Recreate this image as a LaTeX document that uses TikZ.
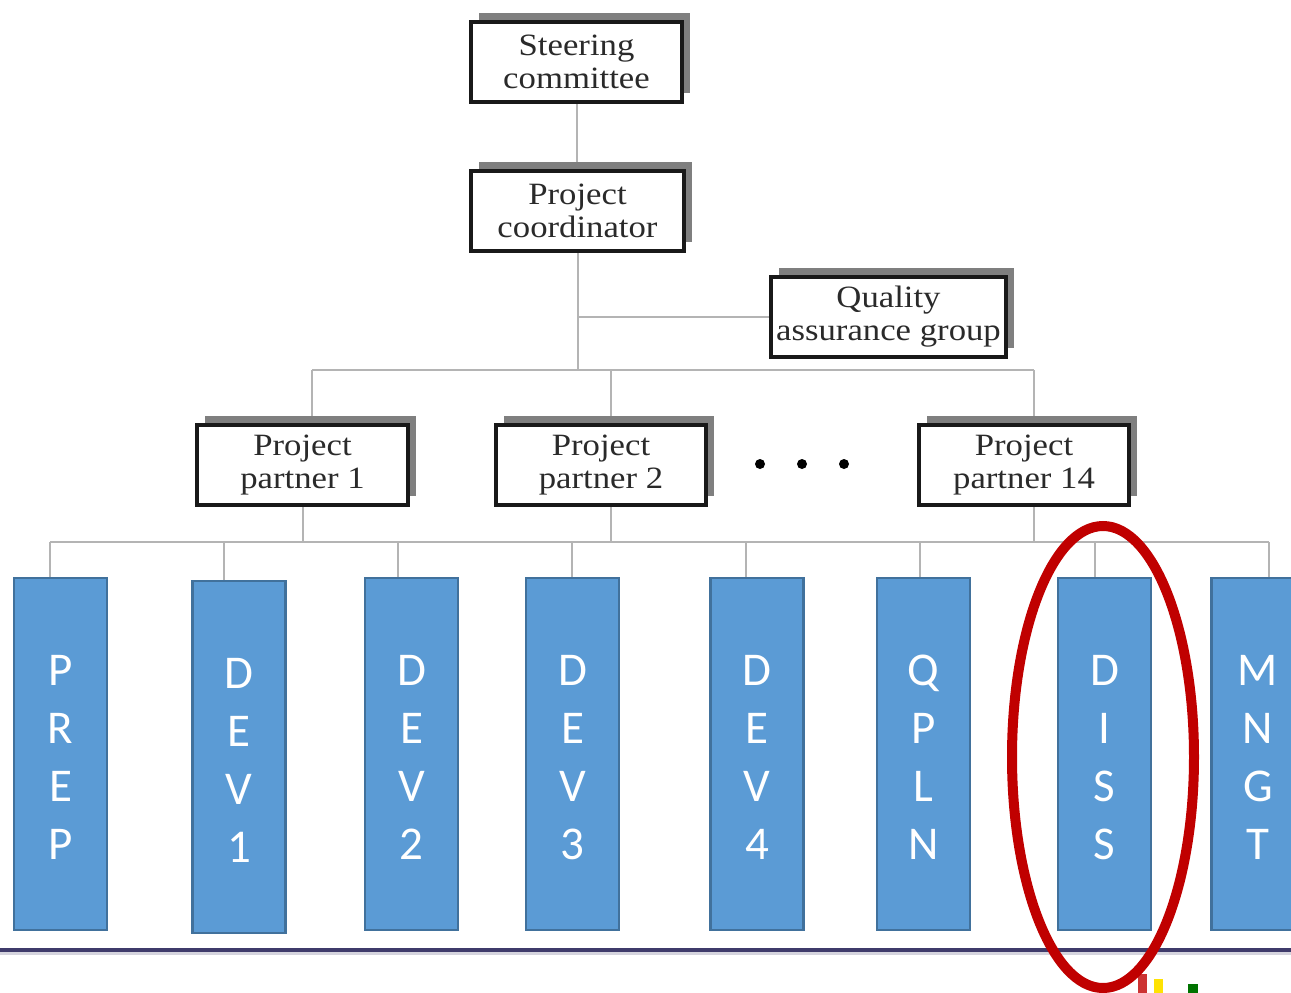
\documentclass[tikz,border=0pt]{standalone}
\usepackage{fontspec}
\newfontfamily\boxfont[FakeStretch=1.12]{Liberation Serif}
\newfontfamily\wpfont{Carlito}
\usetikzlibrary{shadows,backgrounds}
\definecolor{shadowgray}{HTML}{7F7F7F}
\definecolor{conngray}{HTML}{B4B4B4}
\definecolor{wpfill}{HTML}{5B9BD5}
\definecolor{wpborder}{HTML}{41719C}
\definecolor{ovalred}{HTML}{C00000}
\definecolor{rulenavy}{HTML}{3F3B6B}
\definecolor{boxtext}{HTML}{2A2A2A}
\newcommand{\wpstrut}{\rule{0pt}{37pt}}
\begin{document}
\begin{tikzpicture}[x=1pt,y=-1pt,
  orgbox/.style={draw=black!90, line width=4pt, fill=white, minimum width=#1,
    minimum height=80pt, inner sep=0pt, align=center, text=boxtext,
    font=\boxfont\fontsize{31}{33}\selectfont,
    general shadow={fill=shadowgray, shadow xshift=8pt, shadow yshift=9pt}},
  wp/.style={draw=wpborder, line width=2.5pt, fill=wpfill, minimum width=93pt,
    minimum height=352pt, inner sep=0pt, align=center, text=white,
    font=\wpfont\fontsize{47}{58}\selectfont},
  conn/.style={draw=conngray, line width=2pt},
  dot/.style={fill=black}]
\useasboundingbox (0,0) rectangle (1291,993);
\clip (0,0) rectangle (1291,993);

% organisation boxes
\node[orgbox=211pt] (sc) at (576.5,62) {Steering\\committee};
\node[orgbox=213pt] (pc) at (577.5,210.5) {Project\\coordinator};
\node[orgbox=235pt] (qa) at (888.5,316.5) {Quality\\assurance group};
\node[orgbox=211pt] (pp1) at (302.5,465) {Project\\partner 1};
\node[orgbox=210pt] (pp2) at (601,465) {Project\\partner 2};
\node[orgbox=210pt] (pp14) at (1024,465) {Project\\partner 14};

% dots
\fill[dot] (760,464) circle (5pt);
\fill[dot] (802,464) circle (5pt);
\fill[dot] (844,464) circle (5pt);

% work package boxes
\node[wp] (prep) at (60.5,754) {\wpstrut P\\R\\E\\P};
\node[wp] (dev1) at (239,757) {\wpstrut D\\E\\V\\1};
\node[wp] (dev2) at (411.5,754) {\wpstrut D\\E\\V\\2};
\node[wp] (dev3) at (572.5,754) {\wpstrut D\\E\\V\\3};
\node[wp] (dev4) at (757,754) {\wpstrut D\\E\\V\\4};
\node[wp] (qpln) at (923.5,754) {\wpstrut Q\\P\\L\\N};
\node[wp] (diss) at (1104.5,754) {\wpstrut D\\I\\S\\S};
\node[wp] (mngt) at (1258,754) {\wpstrut M\\N\\G\\T};

% bus coordinates
\coordinate (busA) at (576,370);
\coordinate (t1) at (312,370);
\coordinate (t2) at (611,370);
\coordinate (t14) at (1034,370);
\coordinate (b1) at (303,542);
\coordinate (b2) at (611,542);
\coordinate (b14) at (1034,542);
\coordinate (w1) at (50,542);
\coordinate (w2) at (224,542);
\coordinate (w3) at (398,542);
\coordinate (w4) at (572,542);
\coordinate (w5) at (746,542);
\coordinate (w6) at (920,542);
\coordinate (w7) at (1095,542);
\coordinate (w8) at (1269,542);

\begin{scope}[on background layer]
  \draw[conn] (sc.south) -- (sc.south |- pc.north);
  \draw[conn] (pc.south) -- (pc.south |- busA);
  \draw[conn] (pc.south |- qa.west) -- (qa.west);
  \draw[conn] (t1) -- (t14);
  \draw[conn] (t1) -- (t1 |- pp1.north);
  \draw[conn] (t2) -- (t2 |- pp2.north);
  \draw[conn] (t14) -- (t14 |- pp14.north);
  \draw[conn] (b1 |- pp1.south) -- (b1);
  \draw[conn] (b2 |- pp2.south) -- (b2);
  \draw[conn] (b14 |- pp14.south) -- (b14);
  \draw[conn] (w1) -- (w8);
  \draw[conn] (w1) -- (w1 |- prep.north);
  \draw[conn] (w2) -- (w2 |- dev1.north);
  \draw[conn] (w3) -- (w3 |- dev2.north);
  \draw[conn] (w4) -- (w4 |- dev3.north);
  \draw[conn] (w5) -- (w5 |- dev4.north);
  \draw[conn] (w6) -- (w6 |- qpln.north);
  \draw[conn] (w7) -- (w7 |- diss.north);
  \draw[conn] (w8) -- (w8 |- mngt.north);
\end{scope}

% bottom rule
\draw[line width=7pt, rulenavy!22] (0,951) -- (1291,951);
\draw[line width=3.5pt, rulenavy] (0,950) -- (1291,950);

% logo fragments
\fill[red!75!black!80] (1138,974) rectangle (1147,993);
\fill[yellow!85!orange] (1154,979) rectangle (1163,993);
\fill[green!45!black] (1188,984) rectangle (1198,993);

% highlight oval
\draw[ovalred, line width=10pt] (1103,757) ellipse [x radius=91pt, y radius=231pt];
\end{tikzpicture}
\end{document}
